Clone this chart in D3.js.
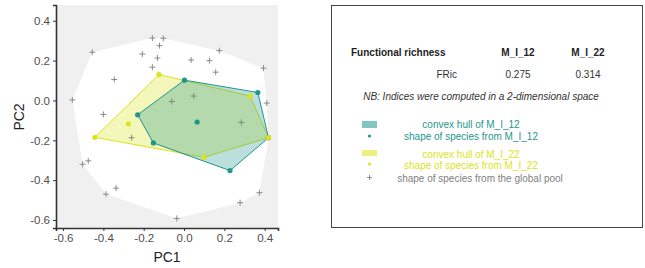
<!DOCTYPE html>
<html>
<head>
<script src="https://d3js.org/d3.v7.min.js"></script>
<style>
body {margin:0; background:#fff; overflow:hidden;}
text {font-family: "Liberation Sans", Arial, sans-serif;}
</style>
</head>
<body>
<div id="canvas"></div>
<script>
// species of the global pool (PC1, PC2)
var poolPC1 = [-0.157,-0.103,-0.122,-0.455,-0.207,-0.132,0.035,0.126,0.175,-0.157,0.157,0.394,-0.346,-0.554,-0.061,0.048,0.41,-0.4,0.284,-0.26,-0.503,-0.475,-0.337,-0.387,0.374,0.278,-0.036];
var poolPC2 = [0.313,0.312,0.275,0.242,0.233,0.213,0.203,0.2,0.25,0.167,0.142,0.162,0.105,0.003,-0.005,0.022,-0.013,-0.07,-0.11,-0.187,-0.32,-0.303,-0.44,-0.47,-0.463,-0.513,-0.592];

// species of assemblage M_I_12
var asb1PC1 = [0.002,0.366,0.419,0.228,-0.152,-0.23,0.065];
var asb1PC2 = [0.102,0.04,-0.187,-0.352,-0.213,-0.072,-0.108];

// species of assemblage M_I_22
var asb2PC1 = [-0.124,0.328,0.419,0.099,-0.442,-0.276];
var asb2PC2 = [0.13,0.022,-0.187,-0.285,-0.185,-0.117];

var xTicks = [-0.6,-0.4,-0.2,0.0,0.2,0.4];
var yTicks = [0.4,0.2,0.0,-0.2,-0.4,-0.6];

var asbNames = ["M_I_12","M_I_22"];
var friValues = [0.275,0.314];

var colPool = "#7f7f7f", col1 = "#1F968B", col2 = "#DCE319";

var svg = d3.select("#canvas").append("svg")
    .attr("width", 645).attr("height", 268);

var x = d3.scaleLinear().domain([-0.635,0.466]).range([56,278]);
var y = d3.scaleLinear().domain([-0.64,0.479]).range([228,5]);

function pts(a, b) { return a.map(function(v, i) { return [v, b[i]]; }); }
var pool = pts(poolPC1, poolPC2);
var asb1 = pts(asb1PC1, asb1PC2);
var asb2 = pts(asb2PC1, asb2PC2);

// panel background
svg.append("rect").attr("x",56).attr("y",5).attr("width",222).attr("height",223)
    .attr("fill","#f0f0f0");

function px(p) { return [x(p[0]), y(p[1])]; }

// global convex hull
var hullAll = d3.polygonHull(pool.concat(asb1, asb2).map(px));
svg.append("path").attr("d","M"+hullAll.join("L")+"Z").attr("fill","#fff");

var hull2 = d3.polygonHull(asb2.map(px));
svg.append("path").attr("d","M"+hull2.join("L")+"Z")
    .attr("fill",col2).attr("fill-opacity",0.3).attr("stroke",col2).attr("stroke-width",1);
var hull1 = d3.polygonHull(asb1.map(px));
svg.append("path").attr("d","M"+hull1.join("L")+"Z")
    .attr("fill",col1).attr("fill-opacity",0.3).attr("stroke",col1).attr("stroke-width",1);

// pool crosses
svg.selectAll(".pool").data(pool).enter().append("path")
    .attr("class","pool")
    .attr("d", function(d) { var cx = x(d[0]), cy = y(d[1]);
        return "M"+(cx-3)+","+cy+"H"+(cx+3)+"M"+cx+","+(cy-3)+"V"+(cy+3); })
    .attr("stroke",colPool).attr("stroke-width",0.9).attr("fill","none");

svg.selectAll(".a2").data(asb2).enter().append("circle")
    .attr("cx", function(d){return x(d[0]);}).attr("cy", function(d){return y(d[1]);})
    .attr("r",2.6).attr("fill",col2);
svg.selectAll(".a1").data(asb1).enter().append("circle")
    .attr("cx", function(d){return x(d[0]);}).attr("cy", function(d){return y(d[1]);})
    .attr("r",2.6).attr("fill",col1);
// shared vertex drawn in M_I_22 colour on top
svg.append("circle").attr("cx",x(asb2PC1[2])).attr("cy",y(asb2PC2[2])).attr("r",2.6).attr("fill",col2);

// axes
var xAxis = svg.append("g").attr("transform","translate(0,228)")
    .call(d3.axisBottom(x).tickValues(xTicks).tickSize(3).tickFormat(d3.format(".1f")));
var yAxis = svg.append("g").attr("transform","translate(56,0)")
    .call(d3.axisLeft(y).tickValues(yTicks).tickSize(3).tickFormat(d3.format(".1f")));
[xAxis, yAxis].forEach(function(g) {
  g.select(".domain").attr("stroke","#333").attr("stroke-width",1.6);
  g.selectAll(".tick line").attr("stroke","#333");
  g.selectAll(".tick text").attr("fill","#4d4d4d").style("font-size","11.5px")
    .style("font-family","Liberation Sans, Arial, sans-serif");
});
xAxis.selectAll(".tick text").text(function(d){ return d3.format(".1f")(d).replace("−","-"); });
yAxis.selectAll(".tick text").text(function(d){ return d3.format(".1f")(d).replace("−","-"); });

svg.append("text").attr("x",167).attr("y",262).attr("text-anchor","middle")
    .style("font-size","14px").attr("fill","#222").text("PC1");
svg.append("text").attr("transform","translate(24,117) rotate(-90)").attr("text-anchor","middle")
    .style("font-size","14px").attr("fill","#222").text("PC2");

// right panel
var p = svg.append("g");
p.append("rect").attr("x",331.5).attr("y",5.5).attr("width",311).attr("height",222)
    .attr("fill","#fff").attr("stroke","#444").attr("stroke-width",1);

p.append("text").attr("x",351).attr("y",56).style("font-size","10px").style("font-weight","bold")
    .attr("fill","#222").text("Functional richness");
var colX = [518, 588];
asbNames.forEach(function(n, i) {
  p.append("text").attr("x",colX[i]).attr("y",56).attr("text-anchor","middle")
    .style("font-size","10px").style("font-weight","bold").attr("fill","#222").text(n);
  p.append("text").attr("x",colX[i]).attr("y",78).attr("text-anchor","middle")
    .style("font-size","10px").attr("fill","#333").text(d3.format(".3f")(friValues[i]));
});
p.append("text").attr("x",457).attr("y",78).attr("text-anchor","end")
    .style("font-size","10px").attr("fill","#333").text("FRic");
p.append("text").attr("x",481).attr("y",100).attr("text-anchor","middle")
    .style("font-size","10px").style("font-style","italic").attr("fill","#333")
    .text("NB: Indices were computed in a 2-dimensional space");

// legend
p.append("rect").attr("x",362).attr("y",121).attr("width",15).attr("height",7)
    .attr("fill",col1).attr("fill-opacity",0.55);
p.append("circle").attr("cx",369.5).attr("cy",136).attr("r",1.6).attr("fill",col1);
p.append("rect").attr("x",362).attr("y",150).attr("width",15).attr("height",6)
    .attr("fill",col2).attr("fill-opacity",0.55);
p.append("circle").attr("cx",369.5).attr("cy",164).attr("r",1.6).attr("fill",col2);
p.append("path").attr("d","M367,177.5H372M369.5,175V180").attr("stroke",colPool).attr("stroke-width",0.9);

var leg = [
  {t:"convex hull of M_I_12", y:128, c:col1},
  {t:"shape of species from M_I_12", y:140, c:col1},
  {t:"convex hull of M_I_22", y:158, c:col2},
  {t:"shape of species from M_I_22", y:169, c:col2},
  {t:"shape of species from the global pool", y:182, c:colPool}
];
leg.forEach(function(l) {
  p.append("text").attr("x", l.c == colPool ? 480 : 471).attr("y",l.y).attr("text-anchor","middle")
    .style("font-size","10px").attr("fill",l.c).text(l.t);
});
</script>
</body>
</html>
